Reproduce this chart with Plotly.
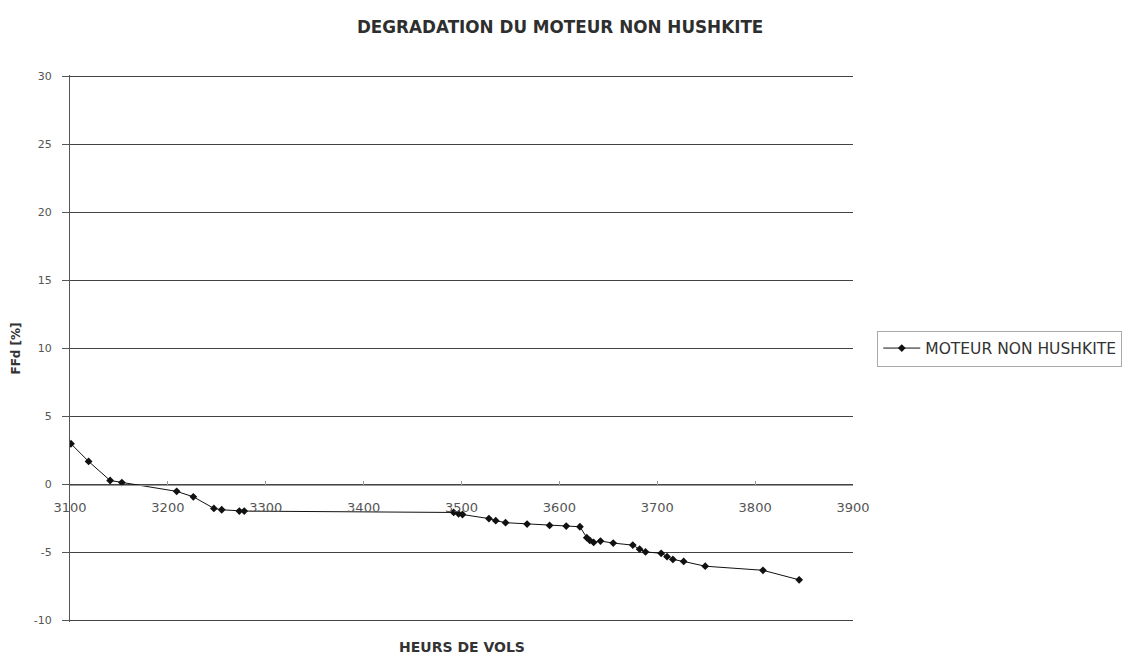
import plotly.graph_objects as go

# Flight hours and FFd degradation (%) of the non-hushkit engine
hours = [3101, 3119, 3141, 3153, 3209, 3226, 3247, 3255, 3273, 3278,
         3492, 3497, 3501, 3528, 3535, 3545, 3567, 3590, 3607, 3621,
         3628, 3631, 3635, 3642, 3655, 3675, 3682, 3688, 3704, 3710,
         3716, 3727, 3749, 3808, 3845]
ffd = [3.0, 1.7, 0.3, 0.15, -0.5, -0.9, -1.75, -1.85, -1.95, -1.95,
       -2.05, -2.15, -2.2, -2.5, -2.65, -2.8, -2.9, -3.0, -3.05, -3.1,
       -3.9, -4.1, -4.25, -4.15, -4.3, -4.45, -4.75, -4.95, -5.05, -5.3,
       -5.5, -5.65, -6.0, -6.3, -7.0]

x_ticks = [3100, 3200, 3300, 3400, 3500, 3600, 3700, 3800, 3900]
y_ticks = [-10, -5, 0, 5, 10, 15, 20, 25, 30]

FONT = "DejaVu Sans, Verdana, sans-serif"

fig = go.Figure()
fig.add_trace(go.Scatter(
    x=hours, y=ffd, mode="lines+markers", name="MOTEUR NON HUSHKITE",
    line=dict(color="#111111", width=1),
    marker=dict(symbol="diamond", size=6, color="#111111"),
))

fig.update_layout(
    width=1127, height=657,
    margin=dict(l=70, r=274, t=75, b=35, autoexpand=False),
    paper_bgcolor="white", plot_bgcolor="white",
    font=dict(family=FONT, color="#333333", size=11),
    title=dict(text="<b>DEGRADATION DU MOTEUR NON HUSHKITE</b>",
               x=0.497, xanchor="center", y=0.958, yanchor="middle",
               font=dict(family=FONT, size=16.8, color="#2e2e2e")),
    showlegend=True,
    legend=dict(x=1.031, xanchor="left", y=0.5, yanchor="middle",
                bordercolor="#aaaaaa", borderwidth=1,
                font=dict(family=FONT, size=15.5, color="#333333"),
                itemwidth=37),
    xaxis=dict(
        range=[3100, 3900], tickvals=x_ticks,
        ticktext=[str(v) for v in x_ticks],
        anchor="free", position=0.25, automargin=False,
        showline=True, linecolor="#999999", linewidth=1,
        ticks="inside", ticklen=4, tickcolor="#999999",
        ticklabelstandoff=10,
        showgrid=False, zeroline=False,
        tickfont=dict(family=FONT, size=13, color="#555555"),
        title=None,
    ),
    yaxis=dict(
        range=[-10.1, 30.1], tickvals=y_ticks,
        ticktext=[str(v) for v in y_ticks],
        automargin=False,
        showline=True, linecolor="#555555", linewidth=1,
        ticks="outside", ticklen=7, tickcolor="#555555",
        ticklabelstandoff=8,
        showgrid=True, gridcolor="#444444", gridwidth=1,
        zeroline=False,
        tickfont=dict(family=FONT, size=11, color="#555555"),
        title=dict(text="<b>FFd [%]</b>", standoff=10,
                   font=dict(family=FONT, size=12, color="#333333")),
    ),
)

fig.add_annotation(
    text="<b>HEURS DE VOLS</b>", xref="paper", yref="paper",
    x=0.5, y=-0.045, xanchor="center", yanchor="middle", showarrow=False,
    font=dict(family=FONT, size=14, color="#333333"),
)

fig.write_html("out.html")
